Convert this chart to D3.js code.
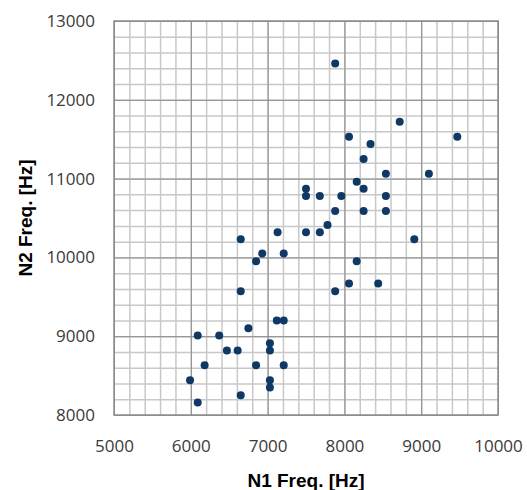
<!DOCTYPE html>
<html>
<head>
<meta charset="utf-8">
<script src="https://cdn.jsdelivr.net/npm/d3@7"></script>
<style>
  body { margin: 0; background: #fff; }
  text { font-family: 'Open Sans', sans-serif; }
</style>
</head>
<body>
<div id="chart"></div>
<script>
// N1 / N2 frequency pairs
const n1Freq = [
  7880, 8720, 8060, 9470, 8340, 8250, 8540, 9100, 8160, 7500,
  8250, 7500, 7680, 7960, 8540, 7880, 8250, 8540, 7780, 7130,
  7500, 7680, 6650, 8910, 6930, 7210, 6850, 8160, 6650, 7880,
  8060, 8440, 7120, 7210, 6750, 6090, 6370, 6470, 6610, 7030,
  7030, 6180, 6850, 7210, 5990, 7030, 7030, 6650, 6090
]
const n2Freq = [
  12460, 11720, 11530, 11530, 11440, 11250, 11060, 11060, 10960, 10870,
  10870, 10780, 10780, 10780, 10780, 10590, 10590, 10590, 10410, 10320,
  10320, 10320, 10230, 10230, 10050, 10050, 9950, 9950, 9570, 9570,
  9670, 9670, 9200, 9200, 9100, 9010, 9010, 8820, 8820, 8910,
  8820, 8630, 8630, 8630, 8440, 8440, 8350, 8250, 8160
]
const xTicks = [5000, 6000, 7000, 8000, 9000, 10000]
const yTicks = [8000, 9000, 10000, 11000, 12000, 13000]
const xLabel = 'N1 Freq. [Hz]'
const yLabel = 'N2 Freq. [Hz]'

const WIDTH = 527
const HEIGHT = 490
const MARGIN = { top: 21, right: 29, bottom: 75, left: 114 }
const PLOT_W = WIDTH - MARGIN.left - MARGIN.right
const PLOT_H = HEIGHT - MARGIN.top - MARGIN.bottom

const DOT_COLOR = '#0f3865'
const MAJOR_COLOR = '#8c8c8c'
const MINOR_COLOR = '#c8c8c8'
const TEXT_COLOR = '#3a3a3a'

const points = n1Freq.map((x, i) => ({ x: x, y: n2Freq[i] }))

const svg = d3.select('#chart')
  .append('svg')
  .attr('width', WIDTH)
  .attr('height', HEIGHT)

const g = svg.append('g')
  .attr('transform', 'translate(' + MARGIN.left + ',' + MARGIN.top + ')')

const xScale = d3.scaleLinear().domain([5000, 10000]).range([0, PLOT_W])
const yScale = d3.scaleLinear().domain([8000, 13000]).range([PLOT_H, 0])

// minor grid every 200 Hz
g.append('g')
  .attr('color', MINOR_COLOR)
  .attr('stroke-width', 1.5)
  .call(d3.axisBottom(xScale).tickValues(d3.range(5200, 10000, 200)).tickSize(-PLOT_H).tickFormat(''))
  .attr('transform', 'translate(0,' + PLOT_H + ')')
  .call(a => a.select('.domain').remove())
g.append('g')
  .attr('color', MINOR_COLOR)
  .attr('stroke-width', 1.5)
  .call(d3.axisLeft(yScale).tickValues(d3.range(8200, 13000, 200)).tickSize(-PLOT_W).tickFormat(''))
  .call(a => a.select('.domain').remove())

// major grid every 1000 Hz
g.append('g')
  .attr('color', MAJOR_COLOR)
  .call(d3.axisBottom(xScale).tickValues(xTicks).tickSize(-PLOT_H).tickFormat(''))
  .attr('transform', 'translate(0,' + PLOT_H + ')')
  .call(a => a.select('.domain').remove())
g.append('g')
  .attr('color', MAJOR_COLOR)
  .call(d3.axisLeft(yScale).tickValues(yTicks).tickSize(-PLOT_W).tickFormat(''))
  .call(a => a.select('.domain').remove())

// plot border
g.append('rect')
  .attr('width', PLOT_W)
  .attr('height', PLOT_H)
  .attr('fill', 'none')
  .attr('stroke', MAJOR_COLOR)
  .attr('stroke-width', 1.5)

// tick labels
g.append('g')
  .attr('transform', 'translate(0,' + PLOT_H + ')')
  .call(d3.axisBottom(xScale).tickValues(xTicks).tickSize(0).tickPadding(25).tickFormat(d3.format('d')))
  .call(a => a.select('.domain').remove())
  .selectAll('text')
  .attr('fill', TEXT_COLOR)
  .style('font-size', '17px')
g.append('g')
  .call(d3.axisLeft(yScale).tickValues(yTicks).tickSize(0).tickPadding(19).tickFormat(d3.format('d')))
  .call(a => a.select('.domain').remove())
  .selectAll('text')
  .attr('fill', TEXT_COLOR)
  .style('font-size', '17px')

// points
g.append('g')
  .selectAll('circle')
  .data(points)
  .enter()
  .append('circle')
  .attr('cx', d => xScale(d.x))
  .attr('cy', d => yScale(d.y))
  .attr('r', 4)
  .attr('fill', DOT_COLOR)

// axis titles
svg.append('text')
  .attr('x', MARGIN.left + PLOT_W / 2)
  .attr('y', 487)
  .attr('text-anchor', 'middle')
  .style('font-family', 'Liberation Sans, sans-serif')
  .style('font-size', '19px')
  .style('font-weight', 'bold')
  .attr('fill', '#000')
  .text(xLabel)

svg.append('text')
  .attr('transform', 'translate(32,' + (MARGIN.top + PLOT_H / 2) + ') rotate(-90)')
  .attr('text-anchor', 'middle')
  .style('font-family', 'Liberation Sans, sans-serif')
  .style('font-size', '19px')
  .style('font-weight', 'bold')
  .attr('fill', '#000')
  .text(yLabel)
</script>
</body>
</html>
